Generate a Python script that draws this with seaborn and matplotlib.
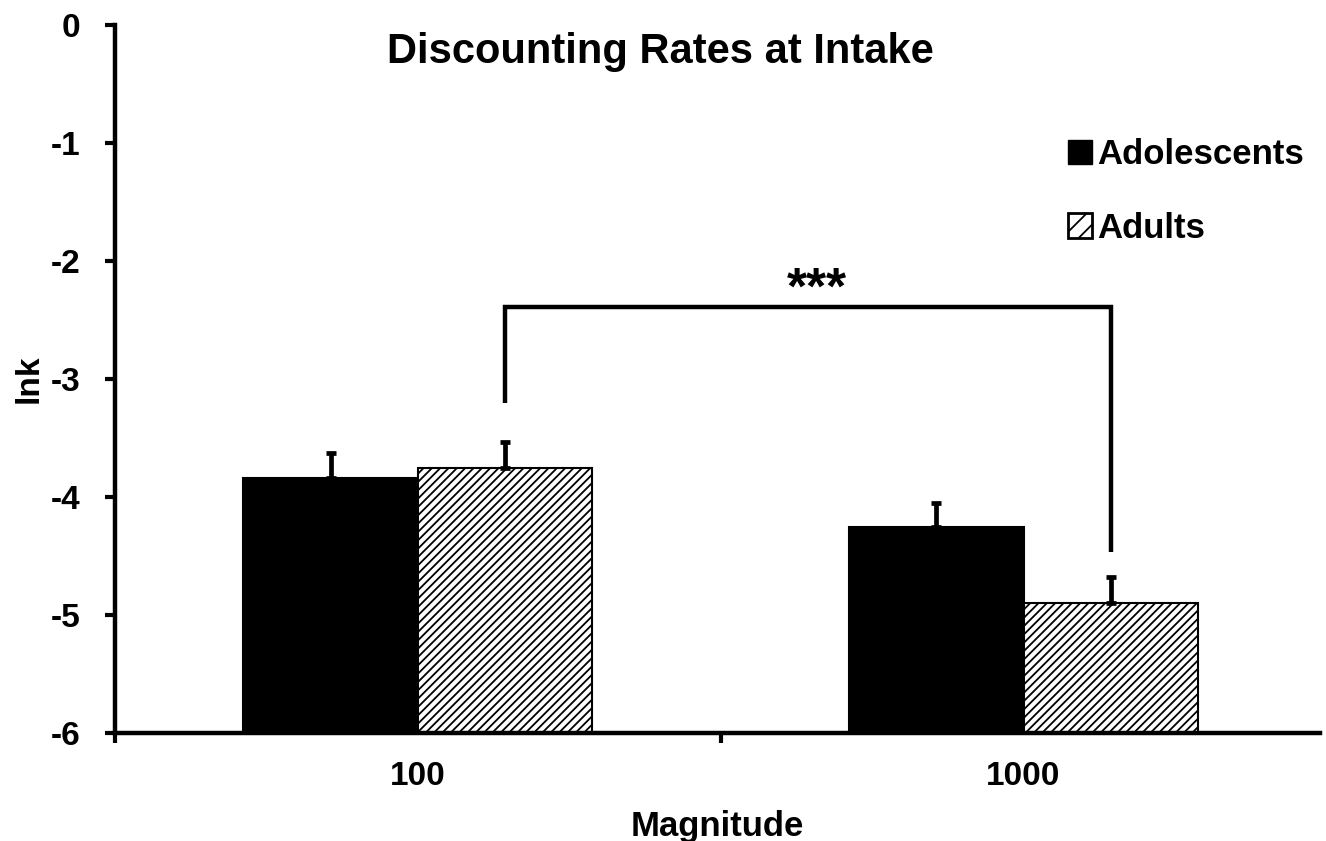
import matplotlib
matplotlib.use("Agg")
import matplotlib.pyplot as plt
import seaborn as sns
import pandas as pd
from matplotlib.patches import Patch
from matplotlib.ticker import FixedLocator
from matplotlib.container import BarContainer

# ---- data ----
magnitudes = ["100", "1000"]
groups = ["Adolescents", "Adults"]
adolescents_lnk = [-3.84, -4.25]
adults_lnk = [-3.75, -4.90]
adolescents_se = [0.21, 0.20]
adults_se = [0.22, 0.22]
y_ticks = [0, -1, -2, -3, -4, -5, -6]
title = "Discounting Rates at Intake"
x_label = "Magnitude"
y_label = "lnk"
sig_label = "***"
bracket_y = -2.39
bracket_left_end = -3.20
bracket_right_end = -4.47

sns.set_theme(style="white")
plt.rcParams["font.family"] = ["Liberation Sans", "DejaVu Sans"]
plt.rcParams["font.weight"] = "bold"
plt.rcParams["text.color"] = "black"
plt.rcParams["axes.labelcolor"] = "black"
plt.rcParams["xtick.color"] = "black"
plt.rcParams["ytick.color"] = "black"
plt.rcParams["hatch.linewidth"] = 1.3
plt.rcParams["hatch.color"] = "black"

df = pd.DataFrame({
    "Magnitude": magnitudes * 2,
    "Group": [groups[0]] * len(magnitudes) + [groups[1]] * len(magnitudes),
    "lnk": adolescents_lnk + adults_lnk,
    "se": adolescents_se + adults_se,
})

fig = plt.figure(figsize=(13.26, 8.41), dpi=100)
ax = fig.add_axes([0.0867, 0.1284, 0.909, 0.8419])
sns.barplot(data=df, x="Magnitude", y="lnk", hue="Group", order=magnitudes,
            hue_order=groups, palette=["black", "white"], width=0.576, gap=0,
            errorbar=None, edgecolor="black", linewidth=1.5, ax=ax, legend=False)

base = y_ticks[-1]
se_lists = [adolescents_se, adults_se]
bar_containers = [c for c in ax.containers if isinstance(c, BarContainer)]
centers = []
for gi, cont in enumerate(bar_containers):
    cs = []
    for pi, p in enumerate(cont.patches):
        h = p.get_height()
        p.set_y(base)
        p.set_height(h - base)
        if gi == 1:
            p.set_hatch("////")
        xc = p.get_x() + p.get_width() / 2
        top = p.get_y() + p.get_height()
        cs.append(xc)
        ax.errorbar([xc], [top], yerr=[[0], [se_lists[gi][pi]]], fmt="none",
                    ecolor="black", elinewidth=3.4, capsize=3.6, capthick=3.4, zorder=1)
    centers.append(cs)

ax.set_ylim(y_ticks[-1], y_ticks[0])
ax.set_xlim(-0.5, 1.49)
ax.set_yticks(y_ticks)
ax.set_yticklabels([str(v) for v in y_ticks])
ax.xaxis.set_minor_locator(FixedLocator([-0.5, 0.5, 1.5]))
ax.tick_params(axis="y", which="both", left=True, direction="out", length=7, width=3,
               pad=18, labelsize=24, color="black", labelcolor="black")
ax.tick_params(axis="x", which="major", bottom=True, length=0, pad=20, labelsize=24,
               labelcolor="black")
ax.tick_params(axis="x", which="minor", bottom=True, length=7, width=3,
               direction="out", color="black")
for s in ["top", "right"]:
    ax.spines[s].set_visible(False)
for s in ["left", "bottom"]:
    ax.spines[s].set_linewidth(3.2)
    ax.spines[s].set_color("black")

ax.set_xlabel(x_label, fontsize=25, fontweight="bold", labelpad=13, color="black")
ax.set_ylabel(y_label, fontsize=24, fontweight="bold", color="black")
ax.yaxis.set_label_coords(-0.058, 0.5)

fig.text(660 / 1326, 1 - 63 / 841, title, ha="center", va="baseline",
         fontsize=30, fontweight="bold", color="black")

xl, xr = centers[1][0], centers[1][1]
ax.plot([xl, xl, xr, xr], [bracket_left_end, bracket_y, bracket_y, bracket_right_end],
        color="black", lw=3.2, solid_joinstyle="miter", solid_capstyle="butt")
ax.text((xl + xr) / 2 + 0.015, bracket_y + 0.03, sig_label, ha="center", va="baseline",
        fontsize=37, fontweight="bold", color="black")

handles = [Patch(facecolor="black", edgecolor="black"),
           Patch(facecolor="white", edgecolor="black", hatch="//", linewidth=2)]
fig.legend(handles, groups, loc="upper left", bbox_to_anchor=(1068 / 1326, 1 - 138 / 841),
           frameon=False, prop={"size": 25, "weight": "bold"}, handlelength=0.7,
           handleheight=0.7, handletextpad=0.15, labelspacing=1.17, borderpad=0,
           borderaxespad=0, labelcolor="black")

fig.savefig("out.png", dpi=100)
